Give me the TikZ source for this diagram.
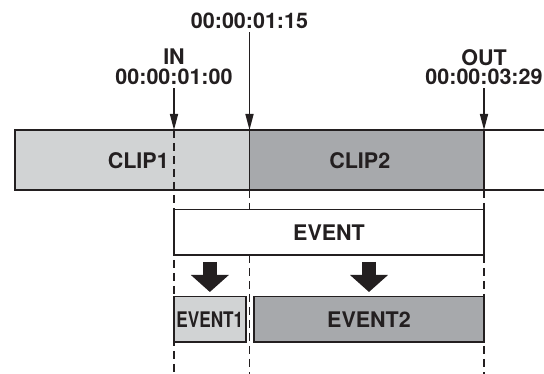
\documentclass[tikz,border=0pt]{standalone}
\usepackage{fontspec}
\setmainfont{TeX Gyre Heros}
\usepackage{graphicx}
\usepackage{tikz}
\usetikzlibrary{positioning, arrows.meta, calc}
\definecolor{tink}{RGB}{35,31,32}
\definecolor{tlight}{RGB}{209,211,212}
\definecolor{tmid}{RGB}{167,169,172}

\begin{document}
\begin{tikzpicture}[x=1pt, y=-1pt,
    every node/.style={font=\fontsize{21.5}{19.5}\selectfont\bfseries, text=tink},
    segbox/.style={draw=tink, line width=1.6pt, inner sep=0pt, outer sep=0pt},
    cutline/.style={draw=tink, line width=1.5pt, dash pattern=on 8pt off 5pt},
    tcarrow/.style={draw=tink, line width=1.6pt, -{Triangle[length=16pt, width=8pt]}},
    bigarrow/.style={draw=tink, line width=14pt, -{Triangle[length=17pt, width=37pt]}}]
  \useasboundingbox (0,0) rectangle (544,374);

  % clips on the timeline
  \node[segbox, fill=tlight, anchor=north west, minimum width=234.5pt, minimum height=60pt]
    (clip1) at (15,130) {};
  \node[segbox, fill=tmid, minimum width=234.5pt, minimum height=60pt, right=0pt of clip1]
    (clip2) {};
  \node (clip1lab) at ($(clip1.center)+(6,1)$) {CLIP1};
  \node (clip2lab) at ($(clip2.center)+(-7,1)$) {CLIP2};
  \coordinate (barend) at (544,130);
  \draw[tink, line width=1.6pt] (clip2.north east) -- (barend |- clip2.north)
    (clip2.south east) -- (barend |- clip2.south);

  % time codes
  \coordinate (inpt) at (174,130);
  \node[align=center] (inlab) at (174,67) {IN\\00:00:01:00};
  \node (midlab) at (249.5,21) {00:00:01:15};
  \node[align=center] (outlab) at (484,67) {OUT\\00:00:03:29};
  \draw[tcarrow] (inlab) -- (inpt);
  \draw[tcarrow] (midlab) -- (clip1.north east);
  \draw[tcarrow] (outlab) -- (clip2.north east);

  % cut lines
  \coordinate (bot) at (0,374);
  \draw[cutline] (inpt) -- (inpt |- bot);
  \draw[cutline] (clip1.south east) -- (clip1.south east |- bot);
  \draw[cutline] (clip2.south east) -- (clip2.south east |- bot);

  % event and its two parts
  \node[segbox, fill=white, anchor=north west, minimum width=310pt, minimum height=45.5pt]
    (event) at (174,209.5) {EVENT};
  \node[segbox, fill=tlight, anchor=north west, minimum width=71.7pt, minimum height=45.3pt]
    (event1) at (174,296.7) {\scalebox{0.8}[1]{EVENT1}};
  \node[segbox, fill=tmid, minimum width=230pt, minimum height=45.3pt, right=8.3pt of event1]
    (event2) {EVENT2};
  \draw[bigarrow] ($(event.south -| event1.north)+(0,7)$) -- ($(event1.north)+(0,-4.7)$);
  \draw[bigarrow] ($(event.south -| event2.north)+(0,7)$) -- ($(event2.north)+(0,-4.7)$);
\end{tikzpicture}
\end{document}
